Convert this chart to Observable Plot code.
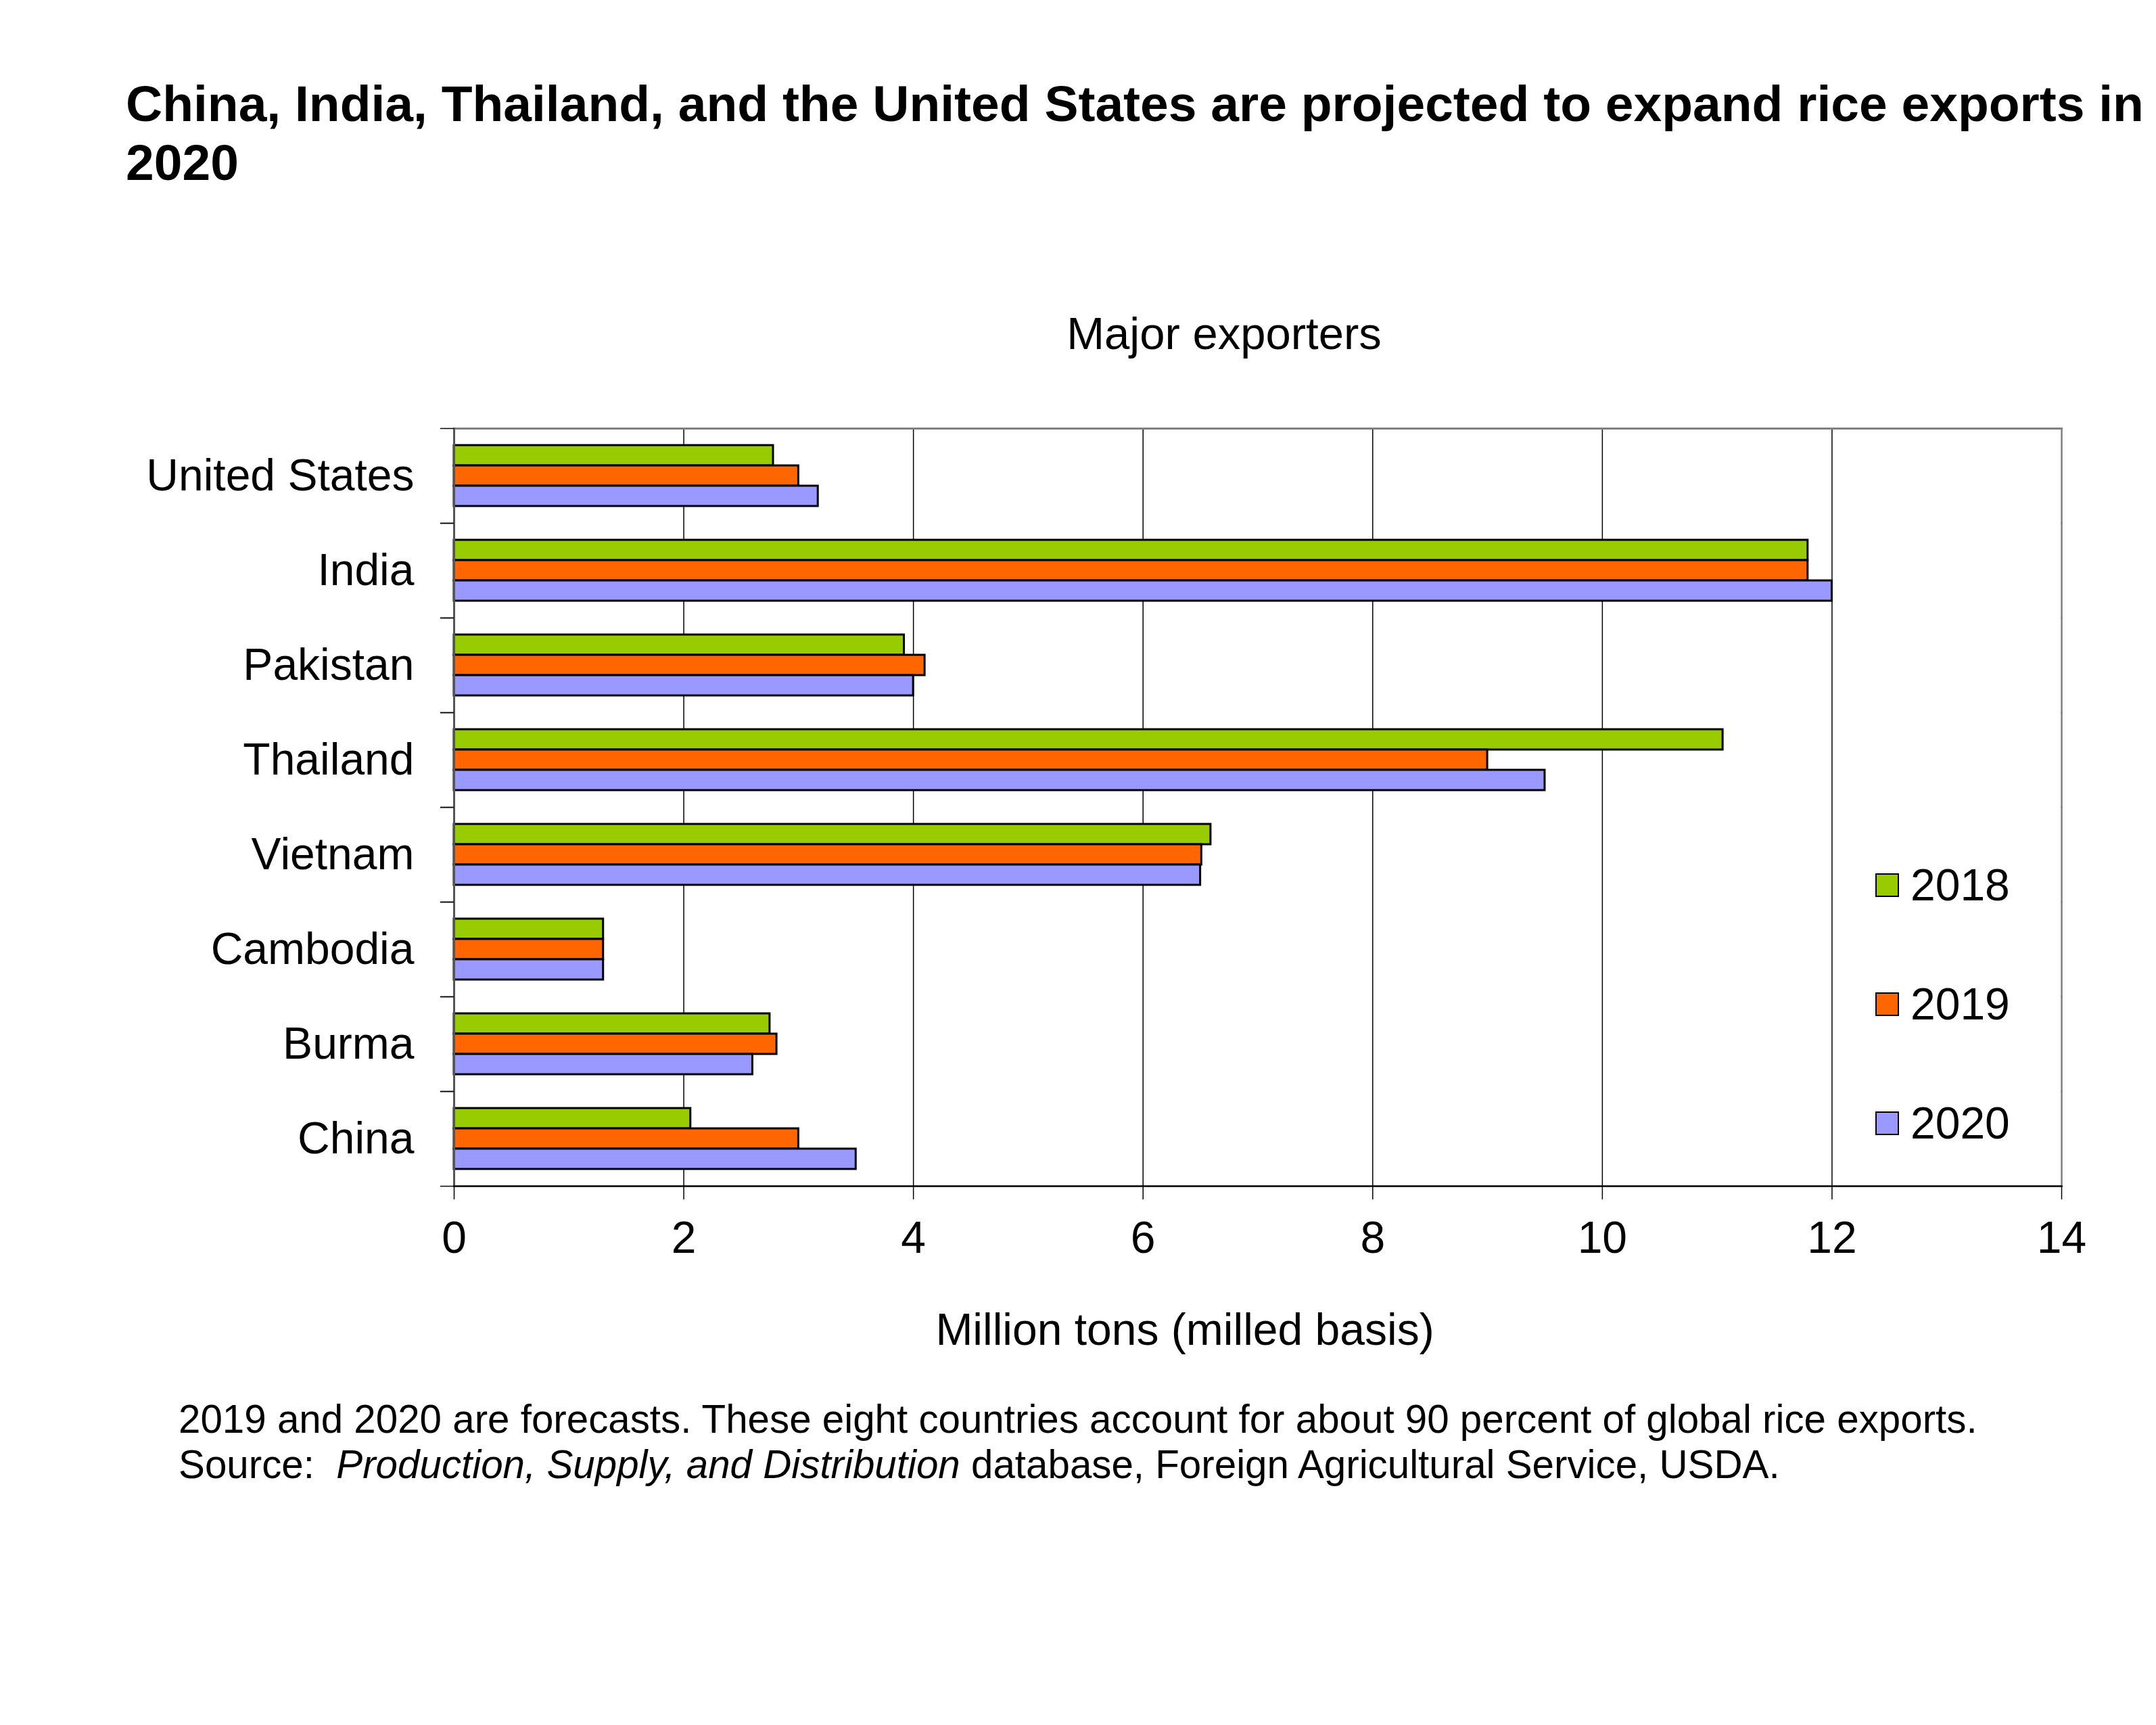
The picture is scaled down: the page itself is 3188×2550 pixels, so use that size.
<!DOCTYPE html>
<html>
<head>
<meta charset="utf-8">
<script src="https://cdn.jsdelivr.net/npm/d3@7"></script>
<script src="https://cdn.jsdelivr.net/npm/@observablehq/plot@0.6"></script>
<style>
  html, body { margin: 0; padding: 0; background: white; }
  #page { position: relative; width: 3188px; height: 2550px; background: white; font-family: "Liberation Sans", Arial, sans-serif; color: black; overflow: hidden; }
  #chart { position: absolute; left: 0; top: 0; }
  .abs { position: absolute; white-space: nowrap; }
  #title { left: 186px; top: 110px; font-size: 75px; font-weight: bold; line-height: 87px; }
  #subtitle { left: 810px; width: 2000px; top: 459px; text-align: center; font-size: 67px; line-height: 67px; }
  #xlabel { left: 752px; width: 2000px; top: 1932px; text-align: center; font-size: 66px; line-height: 66px; }
  #footer { left: 264px; top: 2064px; font-size: 58.3px; line-height: 67px; }
  .sw { position: absolute; width: 31px; height: 31px; border: 2px solid black; }
  .lt { position: absolute; font-size: 66px; line-height: 66px; }
</style>
</head>
<body>
<div id="page">
  <div id="chart"></div>
  <div id="title" class="abs">China, India, Thailand, and the United States are projected to expand rice exports in<br>2020</div>
  <div id="subtitle" class="abs">Major exporters</div>
  <div id="xlabel" class="abs">Million tons (milled basis)</div>
  <div id="footer" class="abs">2019 and 2020 are forecasts. These eight countries account for about 90 percent of global rice exports.<br>Source:&nbsp; <i>Production, Supply, and Distribution</i> database, Foreign Agricultural Service, USDA.</div>
  <div id="legend"></div>
</div>
<script>
const countries = ["United States", "India", "Pakistan", "Thailand", "Vietnam", "Cambodia", "Burma", "China"];
const years = ["2018", "2019", "2020"];
const exports2018 = [2.78, 11.79, 3.92, 11.05, 6.59, 1.3, 2.75, 2.06];
const exports2019 = [3.0, 11.79, 4.1, 9.0, 6.51, 1.3, 2.81, 3.0];
const exports2020 = [3.17, 12.0, 4.0, 9.5, 6.5, 1.3, 2.6, 3.5];
const xTicks = [0, 2, 4, 6, 8, 10, 12, 14];
const gridTicks = [2, 4, 6, 8, 10, 12];
const colors = ["#99cc00", "#ff6600", "#9999ff"];

const series = [exports2018, exports2019, exports2020];
const data = [];
countries.forEach((c, i) => {
  years.forEach((y, j) => data.push({country: c, year: y, value: series[j][i]}));
});

const H = 2050, MT = 632, MB = 297;
const facetHalf = (H - MT - MB) / countries.length / 2;

const chart = Plot.plot({
  width: 3188,
  height: H,
  marginLeft: 671,
  marginRight: 140,
  marginTop: MT,
  marginBottom: MB,
  style: {fontFamily: "'Liberation Sans', Arial, sans-serif", fontSize: "66px", color: "black", background: "transparent", overflow: "visible"},
  x: {domain: [0, 14]},
  y: {domain: years, paddingInner: 0, paddingOuter: 0.76, axis: null},
  fy: {domain: countries, padding: 0, axis: null},
  color: {domain: years, range: colors},
  marks: [
    Plot.gridX(gridTicks, {stroke: "black", strokeOpacity: 1, strokeWidth: 1.5}),
    Plot.barX(data, {x: "value", y: "year", fy: "country", fill: "year", stroke: "black", strokeWidth: 3}),
    Plot.frame({anchor: "top", facetAnchor: "top", stroke: "#808080", strokeWidth: 3}),
    Plot.frame({anchor: "right", stroke: "#808080", strokeWidth: 2.5}),
    Plot.frame({anchor: "left", stroke: "#555555", strokeWidth: 3}),
    Plot.frame({anchor: "bottom", facetAnchor: "bottom", stroke: "black", strokeWidth: 2.5}),
    Plot.axisX({ticks: xTicks, tickSize: 20, tickPadding: 32, label: null, stroke: "black", strokeWidth: 1.5, fontSize: 66}),
    Plot.axisFy({anchor: "left", tickSize: 0, tickPadding: 59, label: null, fontSize: 66}),
    Plot.axisFy({anchor: "left", tickSize: 20, text: null, label: null, dy: -facetHalf, stroke: "black", strokeWidth: 1.5}),
    Plot.axisFy({anchor: "left", tickSize: 20, text: null, label: null, dy: facetHalf, stroke: "black", strokeWidth: 1.5})
  ]
});
document.getElementById("chart").appendChild(chart);

const legend = document.getElementById("legend");
const legendCenters = [1308, 1484, 1660];
years.forEach((y, i) => {
  const sw = document.createElement("div");
  sw.className = "sw";
  sw.style.left = "2773px";
  sw.style.top = (legendCenters[i] - 17) + "px";
  sw.style.background = colors[i];
  legend.appendChild(sw);
  const t = document.createElement("div");
  t.className = "lt";
  t.style.left = "2825px";
  t.style.top = (legendCenters[i] - 33) + "px";
  t.textContent = y;
  legend.appendChild(t);
});
</script>
</body>
</html>
